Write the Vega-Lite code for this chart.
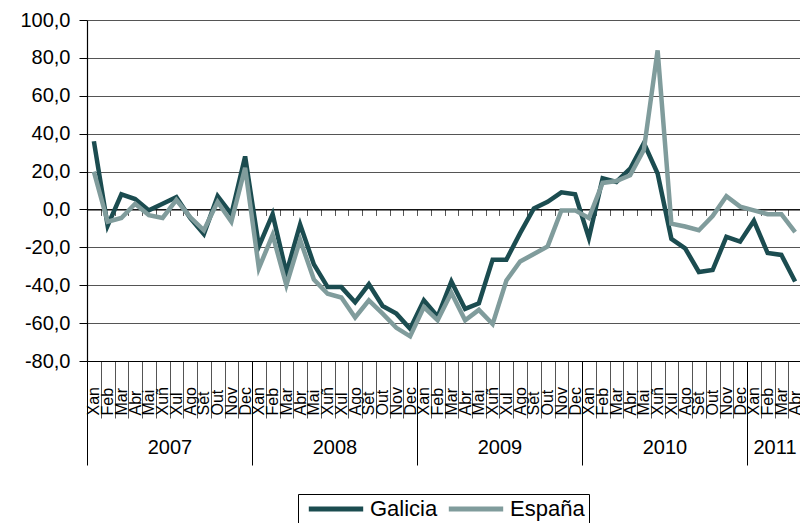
{
  "$schema": "https://vega.github.io/schema/vega-lite/v6.json",
  "width": 715,
  "height": 341,
  "autosize": {"type": "none"},
  "padding": {"left": 87, "top": 20, "right": 0, "bottom": 162},
  "background": "white",
  "config": {"font": "Liberation Sans", "view": {"stroke": null}},
  "data": {"values": [
    {"n": 1, "mes": "Xan", "ano": 2007, "Galicia": 36, "España": 20},
    {"n": 2, "mes": "Feb", "ano": 2007, "Galicia": -8.5, "España": -6.5},
    {"n": 3, "mes": "Mar", "ano": 2007, "Galicia": 8, "España": -4.5},
    {"n": 4, "mes": "Abr", "ano": 2007, "Galicia": 5.5, "España": 3},
    {"n": 5, "mes": "Mai", "ano": 2007, "Galicia": -0.5, "España": -3},
    {"n": 6, "mes": "Xuñ", "ano": 2007, "Galicia": 3, "España": -4.5},
    {"n": 7, "mes": "Xul", "ano": 2007, "Galicia": 6.5, "España": 5},
    {"n": 8, "mes": "Ago", "ano": 2007, "Galicia": -4.5, "España": -4},
    {"n": 9, "mes": "Set", "ano": 2007, "Galicia": -13, "España": -11},
    {"n": 10, "mes": "Out", "ano": 2007, "Galicia": 7, "España": 4},
    {"n": 11, "mes": "Nov", "ano": 2007, "Galicia": -2.5, "España": -6.5},
    {"n": 12, "mes": "Dec", "ano": 2007, "Galicia": 28, "España": 22},
    {"n": 13, "mes": "Xan", "ano": 2008, "Galicia": -19.5, "España": -31},
    {"n": 14, "mes": "Feb", "ano": 2008, "Galicia": -2.5, "España": -13.5},
    {"n": 15, "mes": "Mar", "ano": 2008, "Galicia": -33.5, "España": -40},
    {"n": 16, "mes": "Abr", "ano": 2008, "Galicia": -8, "España": -16},
    {"n": 17, "mes": "Mai", "ano": 2008, "Galicia": -29, "España": -37},
    {"n": 18, "mes": "Xuñ", "ano": 2008, "Galicia": -41, "España": -44.5},
    {"n": 19, "mes": "Xul", "ano": 2008, "Galicia": -41, "España": -46.5},
    {"n": 20, "mes": "Ago", "ano": 2008, "Galicia": -49, "España": -57},
    {"n": 21, "mes": "Set", "ano": 2008, "Galicia": -39.5, "España": -48},
    {"n": 22, "mes": "Out", "ano": 2008, "Galicia": -51, "España": -55},
    {"n": 23, "mes": "Nov", "ano": 2008, "Galicia": -55, "España": -62.5},
    {"n": 24, "mes": "Dec", "ano": 2008, "Galicia": -63, "España": -67},
    {"n": 25, "mes": "Xan", "ano": 2009, "Galicia": -48, "España": -51.5},
    {"n": 26, "mes": "Feb", "ano": 2009, "Galicia": -56.5, "España": -58.5},
    {"n": 27, "mes": "Mar", "ano": 2009, "Galicia": -38, "España": -44},
    {"n": 28, "mes": "Abr", "ano": 2009, "Galicia": -52.5, "España": -58.5},
    {"n": 29, "mes": "Mai", "ano": 2009, "Galicia": -49.5, "España": -53},
    {"n": 30, "mes": "Xuñ", "ano": 2009, "Galicia": -26.5, "España": -60.5},
    {"n": 31, "mes": "Xul", "ano": 2009, "Galicia": -26.5, "España": -37.5},
    {"n": 32, "mes": "Ago", "ano": 2009, "Galicia": -12.5, "España": -27.5},
    {"n": 33, "mes": "Set", "ano": 2009, "Galicia": 0.5, "España": -23.5},
    {"n": 34, "mes": "Out", "ano": 2009, "Galicia": 4, "España": -19.5},
    {"n": 35, "mes": "Nov", "ano": 2009, "Galicia": 9, "España": -0.5},
    {"n": 36, "mes": "Dec", "ano": 2009, "Galicia": 8, "España": -0.5},
    {"n": 37, "mes": "Xan", "ano": 2010, "Galicia": -15, "España": -4.5},
    {"n": 38, "mes": "Feb", "ano": 2010, "Galicia": 16.5, "España": 14},
    {"n": 39, "mes": "Mar", "ano": 2010, "Galicia": 14.5, "España": 15},
    {"n": 40, "mes": "Abr", "ano": 2010, "Galicia": 21.5, "España": 18},
    {"n": 41, "mes": "Mai", "ano": 2010, "Galicia": 35, "España": 31.5},
    {"n": 42, "mes": "Xuñ", "ano": 2010, "Galicia": 19, "España": 84},
    {"n": 43, "mes": "Xul", "ano": 2010, "Galicia": -15.5, "España": -7.5},
    {"n": 44, "mes": "Ago", "ano": 2010, "Galicia": -20.5, "España": -9},
    {"n": 45, "mes": "Set", "ano": 2010, "Galicia": -33, "España": -11},
    {"n": 46, "mes": "Out", "ano": 2010, "Galicia": -32, "España": -3.5},
    {"n": 47, "mes": "Nov", "ano": 2010, "Galicia": -14.5, "España": 7},
    {"n": 48, "mes": "Dec", "ano": 2010, "Galicia": -17, "España": 1.5},
    {"n": 49, "mes": "Xan", "ano": 2011, "Galicia": -6, "España": -0.5},
    {"n": 50, "mes": "Feb", "ano": 2011, "Galicia": -23, "España": -2.5},
    {"n": 51, "mes": "Mar", "ano": 2011, "Galicia": -24, "España": -2.5},
    {"n": 52, "mes": "Abr", "ano": 2011, "Galicia": -38, "España": -12}
  ]},
  "transform": [{"fold": ["Galicia", "España"], "as": ["serie", "valor"]}],
  "layer": [
    {
      "mark": {"type": "point", "opacity": 0},
      "encoding": {
        "x": {"field": "n", "type": "quantitative",
          "scale": {"domain": [0.5, 52.5], "nice": false, "zero": false},
          "axis": {"orient": "bottom", "title": null, "grid": false, "labels": false,
            "domain": true, "domainColor": "black", "domainWidth": 1,
            "values": [0.5,1.5,2.5,3.5,4.5,5.5,6.5,7.5,8.5,9.5,10.5,11.5,12.5,13.5,14.5,15.5,16.5,17.5,18.5,19.5,20.5,21.5,22.5,23.5,24.5,25.5,26.5,27.5,28.5,29.5,30.5,31.5,32.5,33.5,34.5,35.5,36.5,37.5,38.5,39.5,40.5,41.5,42.5,43.5,44.5,45.5,46.5,47.5,48.5,49.5,50.5,51.5,52.5],
            "ticks": true,
            "tickSize": {"condition": {"test": "datum.value % 12 == 0.5 || datum.value == 52.5", "value": 104}, "value": 57},
            "tickColor": {"condition": {"test": "datum.value % 12 == 0.5 || datum.value == 52.5", "value": "black"}, "value": "#555555"},
            "tickWidth": 1}}
      }
    },
    {
      "mark": {"type": "point", "opacity": 0},
      "encoding": {
        "x": {"field": "n", "type": "quantitative",
          "scale": {"domain": [0.5, 52.5], "nice": false, "zero": false},
          "axis": {"orient": "bottom", "title": null, "grid": false, "domain": false, "ticks": false, "tickSize": 0,
            "values": [6.5, 18.5, 30.5, 42.5, 50.5],
            "labelExpr": "'' + (2007 + floor((datum.value - 0.5) / 12))",
            "labelAngle": 0, "labelAlign": "center", "labelBaseline": "middle", "labelPadding": 86,
            "labelFontSize": 20, "labelColor": "black", "labelFont": "Liberation Sans",
            "labelFlush": false, "labelOverlap": false, "labelBound": false}}
      }
    },
    {
      "mark": {"type": "point", "opacity": 0},
      "encoding": {
        "x": {"field": "n", "type": "quantitative",
          "scale": {"domain": [0.5, 52.5], "nice": false, "zero": false},
          "axis": {"orient": "bottom", "offset": -151.56, "title": null, "grid": false, "labels": false,
            "domain": true, "domainColor": "black", "domainWidth": 1.2,
            "values": [0.5,1.5,2.5,3.5,4.5,5.5,6.5,7.5,8.5,9.5,10.5,11.5,12.5,13.5,14.5,15.5,16.5,17.5,18.5,19.5,20.5,21.5,22.5,23.5,24.5,25.5,26.5,27.5,28.5,29.5,30.5,31.5,32.5,33.5,34.5,35.5,36.5,37.5,38.5,39.5,40.5,41.5,42.5,43.5,44.5,45.5,46.5,47.5,48.5,49.5,50.5,51.5,52.5],
            "ticks": true, "tickSize": 6, "tickColor": "#555555", "tickWidth": 1}}
      }
    },
    {
      "mark": {"type": "line", "strokeWidth": 4.5},
      "encoding": {
        "x": {"field": "n", "type": "quantitative",
          "scale": {"domain": [0.5, 52.5], "nice": false, "zero": false},
          "axis": {"orient": "bottom", "title": null, "grid": false,
            "domain": false, "ticks": false, "tickSize": 0,
            "values": [1,2,3,4,5,6,7,8,9,10,11,12,13,14,15,16,17,18,19,20,21,22,23,24,25,26,27,28,29,30,31,32,33,34,35,36,37,38,39,40,41,42,43,44,45,46,47,48,49,50,51,52],
            "labelExpr": "['Xan','Feb','Mar','Abr','Mai','Xuñ','Xul','Ago','Set','Out','Nov','Dec'][(datum.value - 1) % 12]",
            "labelAngle": 270, "labelAlign": "left", "labelBaseline": "middle", "labelPadding": 54,
            "labelFontSize": 16, "labelColor": "black", "labelFont": "Liberation Sans",
            "labelFlush": false, "labelOverlap": false, "labelBound": false}},
        "y": {"field": "valor", "type": "quantitative",
          "scale": {"domain": [-80, 100], "nice": false, "zero": false},
          "axis": {"title": null, "values": [-80, -60, -40, -20, 0, 20, 40, 60, 80, 100],
            "labelExpr": "(datum.value < 0 ? '-' : '') + replace(format(abs(datum.value), '.1f'), '.', ',')",
            "labelFontSize": 20, "labelColor": "black", "labelFont": "Liberation Sans", "labelPadding": 9,
            "tickSize": 8, "tickColor": "black", "domainColor": "black", "domainWidth": 1.2,
            "grid": true, "gridColor": "#555555", "gridWidth": 1}},
        "color": {"field": "serie", "type": "nominal",
          "scale": {"domain": ["Galicia", "España"], "range": ["#1b4c50", "#809c9c"]},
          "legend": {"orient": "none", "legendX": 211, "legendY": 474, "direction": "horizontal", "title": null,
            "symbolType": "M-3.4,0H3.4", "symbolSize": 256, "symbolStrokeWidth": 5, "symbolOffset": 23,
            "labelFontSize": 22, "labelFont": "Liberation Sans", "labelColor": "black", "labelOffset": 23, "labelLimit": 200,
            "strokeColor": "black", "fillColor": "white", "padding": 4, "columnPadding": 0}}
      }
    }
  ],
  "resolve": {"scale": {"x": "independent"}, "axis": {"x": "independent"}}
}
